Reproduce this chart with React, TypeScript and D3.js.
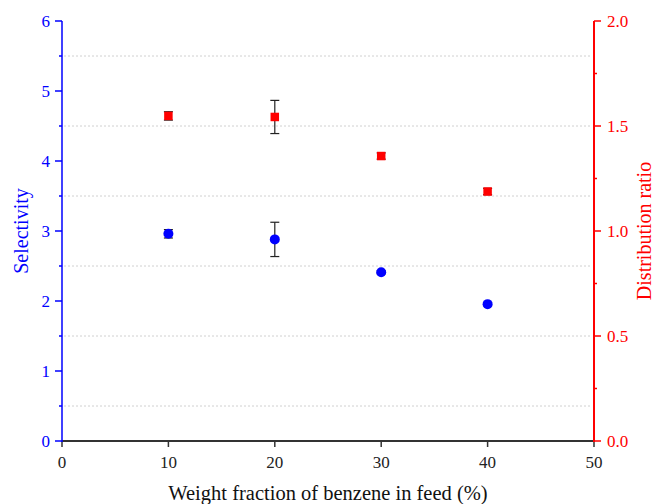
import React from "react";
import * as d3 from "d3";

// Feed composition (wt% benzene)
const feedFractions = [10, 20, 30, 40];
// Selectivity (left axis) with standard deviations
const selectivity = [2.96, 2.88, 2.41, 1.955];
const selectivityErr = [0.06, 0.245, 0.02, 0.02];
// Distribution ratio (right axis) with standard deviations
const distributionRatio = [1.548, 1.543, 1.357, 1.188];
const distributionErr = [0.02, 0.079, 0.015, 0.015];

const xTicks = [0, 10, 20, 30, 40, 50];
const leftTicks = [0, 1, 2, 3, 4, 5, 6];
const leftMinor = [0.5, 1.5, 2.5, 3.5, 4.5, 5.5];
const rightTicks = [0, 0.5, 1.0, 1.5, 2.0];
const rightMinor = [0.25, 0.75, 1.25, 1.75];

const W = 654;
const H = 504;
const M = { left: 62, right: 594, top: 21, bottom: 441 };
const FONT = "'Liberation Serif', 'Times New Roman', serif";

export default function App() {
  const x = d3.scaleLinear().domain([0, 50]).range([M.left, M.right]);
  const yL = d3.scaleLinear().domain([0, 6]).range([M.bottom, M.top]);
  const yR = d3.scaleLinear().domain([0, 2]).range([M.bottom, M.top]);

  const blue = "#0000ff";
  const red = "#ff0000";
  const axisDark = "#333333";
  const cap = 4.5;

  return (
    <svg
      width={W}
      height={H}
      style={{ position: "absolute", left: 0, top: 0, background: "#fff", fontFamily: FONT }}
    >
      {/* dotted grid at the half-unit selectivity positions */}
      {leftMinor.map((v) => (
        <line
          key={"g" + v}
          x1={M.left + 2}
          x2={M.right - 2}
          y1={yL(v)}
          y2={yL(v)}
          stroke="#d0d0d0"
          strokeWidth={1}
          strokeDasharray="2,2"
        />
      ))}

      {/* x axis */}
      <line x1={M.left} x2={M.right} y1={M.bottom} y2={M.bottom} stroke={axisDark} strokeWidth={2} />
      {xTicks.map((t) => (
        <g key={"x" + t}>
          <line x1={x(t)} x2={x(t)} y1={M.bottom} y2={M.bottom + 6} stroke={axisDark} strokeWidth={1.5} />
          <text x={x(t)} y={M.bottom + 27} textAnchor="middle" fontSize={17} fill="#222">
            {t}
          </text>
        </g>
      ))}
      <text x={328} y={500} textAnchor="middle" fontSize={20.5} fill="#111">
        Weight fraction of benzene in feed (%)
      </text>

      {/* left axis: selectivity */}
      <line x1={M.left} x2={M.left} y1={M.top} y2={M.bottom + 1} stroke={blue} strokeWidth={1.5} />
      {leftTicks.map((t) => (
        <g key={"l" + t}>
          <line x1={M.left - 7} x2={M.left} y1={yL(t)} y2={yL(t)} stroke={blue} strokeWidth={1.5} />
          <text x={M.left - 12} y={yL(t) + 6} textAnchor="end" fontSize={17} fill={blue}>
            {t}
          </text>
        </g>
      ))}
      {leftMinor.map((t) => (
        <line key={"lm" + t} x1={M.left - 3} x2={M.left} y1={yL(t)} y2={yL(t)} stroke={blue} strokeWidth={1.5} />
      ))}
      <text
        transform={`translate(28,${(M.top + M.bottom) / 2}) rotate(-90)`}
        textAnchor="middle"
        fontSize={20}
        fill={blue}
      >
        Selectivity
      </text>

      {/* right axis: distribution ratio */}
      <line x1={M.right} x2={M.right} y1={M.top} y2={M.bottom + 1} stroke={red} strokeWidth={2} />
      {rightTicks.map((t) => (
        <g key={"r" + t}>
          <line x1={M.right} x2={M.right + 7} y1={yR(t)} y2={yR(t)} stroke={red} strokeWidth={1.5} />
          <text x={M.right + 13} y={yR(t) + 6} textAnchor="start" fontSize={17} fill={red}>
            {d3.format(".1f")(t)}
          </text>
        </g>
      ))}
      {rightMinor.map((t) => (
        <line key={"rm" + t} x1={M.right} x2={M.right + 3} y1={yR(t)} y2={yR(t)} stroke={red} strokeWidth={1.5} />
      ))}
      <text
        transform={`translate(651,${(M.top + M.bottom) / 2}) rotate(-90)`}
        textAnchor="middle"
        fontSize={20}
        fill={red}
      >
        Distribution ratio
      </text>

      {/* selectivity points with error bars */}
      {feedFractions.map((f, i) => {
        const cx = x(f);
        const lo = yL(selectivity[i] - selectivityErr[i]);
        const hi = yL(selectivity[i] + selectivityErr[i]);
        return (
          <g key={"s" + f}>
            <line x1={cx} x2={cx} y1={lo} y2={hi} stroke="#222" strokeWidth={1.2} />
            <line x1={cx - cap} x2={cx + cap} y1={lo} y2={lo} stroke="#222" strokeWidth={1.2} />
            <line x1={cx - cap} x2={cx + cap} y1={hi} y2={hi} stroke="#222" strokeWidth={1.2} />
            <circle cx={cx} cy={yL(selectivity[i])} r={5} fill={blue} />
          </g>
        );
      })}

      {/* distribution ratio points with error bars */}
      {feedFractions.map((f, i) => {
        const cx = x(f);
        const lo = yR(distributionRatio[i] - distributionErr[i]);
        const hi = yR(distributionRatio[i] + distributionErr[i]);
        return (
          <g key={"d" + f}>
            <line x1={cx} x2={cx} y1={lo} y2={hi} stroke="#222" strokeWidth={1.2} />
            <line x1={cx - cap} x2={cx + cap} y1={lo} y2={lo} stroke="#222" strokeWidth={1.2} />
            <line x1={cx - cap} x2={cx + cap} y1={hi} y2={hi} stroke="#222" strokeWidth={1.2} />
            <rect x={cx - 4.25} y={yR(distributionRatio[i]) - 4.25} width={8.5} height={8.5} fill={red} />
          </g>
        );
      })}
    </svg>
  );
}
